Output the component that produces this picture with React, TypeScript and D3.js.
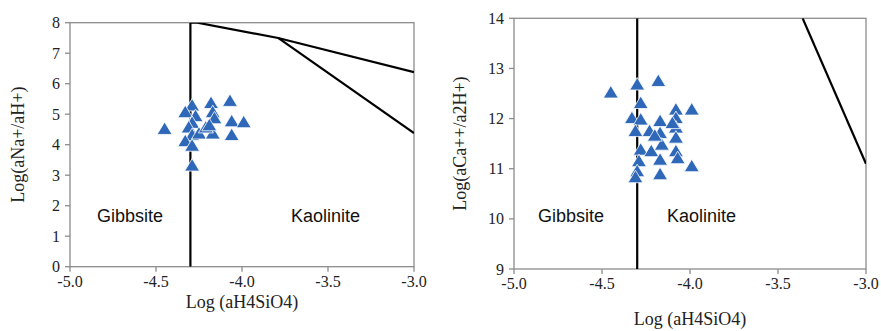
import React from "react";
import * as d3 from "d3";

const xTicks = [-5.0, -4.5, -4.0, -3.5, -3.0];
const naTicks = [0, 1, 2, 3, 4, 5, 6, 7, 8];
const caTicks = [9, 10, 11, 12, 13, 14];

// Left chart (Na) samples
const naSiO4 = [-4.45, -4.29, -4.33, -4.27, -4.18, -4.17, -4.07, -4.16, -4.29, -4.31, -4.06, -3.99, -4.29, -4.25, -4.17, -4.06, -4.33, -4.29, -4.29, -4.21, -4.19];
const naRatio = [4.5, 5.27, 5.05, 4.92, 5.35, 5.05, 5.42, 4.85, 4.7, 4.55, 4.75, 4.72, 4.3, 4.35, 4.35, 4.3, 4.1, 3.95, 3.3, 4.55, 4.62];

// Right chart (Ca) samples
const caSiO4 = [-4.45, -4.3, -4.18, -4.28, -4.33, -4.28, -4.31, -4.23, -4.17, -4.17, -4.16, -4.08, -3.99, -4.08, -4.08, -4.08, -4.28, -4.22, -4.08, -4.07, -4.29, -4.17, -3.99, -4.3, -4.17, -4.31, -4.2, -4.1];
const caRatio = [12.51, 12.67, 12.74, 12.3, 12.0, 11.97, 11.74, 11.74, 11.94, 11.7, 11.47, 12.17, 12.17, 12.0, 11.81, 11.61, 11.37, 11.34, 11.34, 11.2, 11.14, 11.17, 11.04, 10.94, 10.88, 10.82, 11.65, 11.9];

// Stability-field boundaries
const naVertical = [[-4.3, 0], [-4.3, 8]];
const naUpper = [[-4.3, 8], [-4.26, 8], [-3.79, 7.5], [-3.0, 6.38]];
const naLower = [[-3.79, 7.5], [-3.0, 4.38]];
const caVertical = [[-4.3, 9], [-4.3, 14]];
const caDiag = [[-3.36, 14], [-3.0, 11.1]];

const BLUE = "#2f68b8";
const GREY = "#8c8c8c";
const SERIF = "'Liberation Serif', 'Times New Roman', serif";
const SANS = "'Liberation Sans', Arial, sans-serif";

type PanelProps = {
  x0: number; x1: number; y0: number; y1: number;
  yDomain: [number, number]; yTicks: number[];
  xs: number[]; ys: number[];
  lines: number[][][];
  yTitle: string; yTitleX: number; xTitleY: number;
  gibbX: number; kaoX: number; labelY: number;
};

function Panel(p: PanelProps) {
  const x = d3.scaleLinear().domain([-5, -3]).range([p.x0, p.x1]);
  const y = d3.scaleLinear().domain(p.yDomain).range([p.y1, p.y0]);
  const line = d3.line<number[]>().x((d) => x(d[0])).y((d) => y(d[1]));
  const tri = (cx: number, cy: number) =>
    `M${cx},${cy - 7.5}L${cx + 7.5},${cy + 5}L${cx - 7.5},${cy + 5}Z`;
  return (
    <g>
      <defs>
        <clipPath id={`clip${p.x0}`}>
          <rect x={p.x0} y={p.y0} width={p.x1 - p.x0} height={p.y1 - p.y0} />
        </clipPath>
      </defs>
      <rect x={p.x0} y={p.y0} width={p.x1 - p.x0} height={p.y1 - p.y0} fill="none" stroke={GREY} strokeWidth={1.3} />
      {p.yTicks.map((t) => (
        <g key={"y" + t}>
          <line x1={p.x0 - 5} x2={p.x0} y1={y(t)} y2={y(t)} stroke={GREY} strokeWidth={1.3} />
          <text x={p.x0 - 10} y={y(t)} dy="0.35em" textAnchor="end" fontFamily={SERIF} fontSize={16} fill="#222">{t}</text>
        </g>
      ))}
      {xTicks.map((t) => (
        <g key={"x" + t}>
          <line x1={x(t)} x2={x(t)} y1={p.y1} y2={p.y1 + 5} stroke={GREY} strokeWidth={1.3} />
          <text x={x(t)} y={p.y1 + 20} textAnchor="middle" fontFamily={SERIF} fontSize={16} fill="#222">{t.toFixed(1)}</text>
        </g>
      ))}
      <g clipPath={`url(#clip${p.x0})`}>
        {p.lines.map((l, i) => (
          <path key={i} d={line(l) || ""} fill="none" stroke="#000" strokeWidth={2.2} />
        ))}
      </g>
      {p.xs.map((v, i) => (
        <path key={"p" + i} d={tri(x(v), y(p.ys[i]))} fill={BLUE} stroke="#fff" strokeWidth={0.8} />
      ))}
      <text x={p.gibbX} y={p.labelY} fontFamily={SANS} fontSize={18} fill="#111">Gibbsite</text>
      <text x={p.kaoX} y={p.labelY} fontFamily={SANS} fontSize={18} fill="#111">Kaolinite</text>
      <text transform={`translate(${p.yTitleX},${(p.y0 + p.y1) / 2}) rotate(-90)`} textAnchor="middle" dy="0.35em" fontFamily={SERIF} fontSize={18} fill="#222">{p.yTitle}</text>
      <text x={(p.x0 + p.x1) / 2} y={p.xTitleY} textAnchor="middle" fontFamily={SERIF} fontSize={18} fill="#222">Log (aH4SiO4)</text>
    </g>
  );
}

export default function App() {
  return (
    <svg width={881} height={331} style={{ position: "absolute", left: 0, top: 0, background: "#fff" }}>
      <rect width={881} height={331} fill="#fff" />
      <Panel x0={70} x1={414} y0={22.7} y1={266.7} yDomain={[0, 8]} yTicks={naTicks}
        xs={naSiO4} ys={naRatio} lines={[naVertical, naUpper, naLower]}
        yTitle="Log(aNa+/aH+)" yTitleX={18} xTitleY={308}
        gibbX={97} kaoX={291} labelY={222} />
      <Panel x0={514} x1={866} y0={18.3} y1={269} yDomain={[9, 14]} yTicks={caTicks}
        xs={caSiO4} ys={caRatio} lines={[caVertical, caDiag]}
        yTitle="Log(aCa++/a2H+)" yTitleX={460} xTitleY={325}
        gibbX={538} kaoX={667} labelY={222} />
    </svg>
  );
}
